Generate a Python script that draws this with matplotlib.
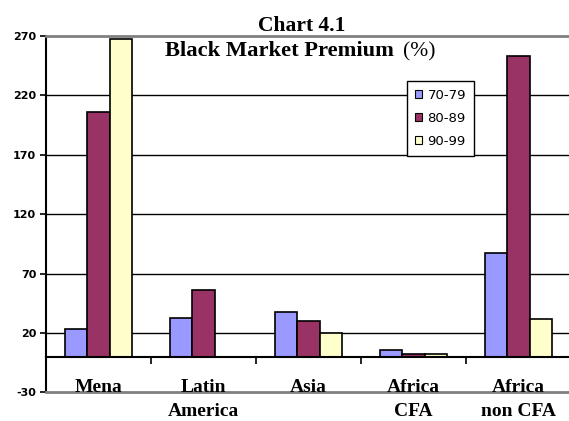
import numpy as np
import matplotlib
matplotlib.use("Agg")
import matplotlib.pyplot as plt
from matplotlib.patches import Patch
from matplotlib.transforms import offset_copy

# Black market premium by region and decade (%)
categories = ["Mena", "Latin\nAmerica", "Asia", "Africa\nCFA", "Africa\nnon CFA"]
series_names = ["70-79", "80-89", "90-99"]
premium_70s = [23, 32.5, 37.5, 6, 87.5]
premium_80s = [206, 56, 30, 2.5, 253]
premium_90s = [267.5, np.nan, 20, 2.5, 31.5]
y_ticks = [-30, 20, 70, 120, 170, 220, 270]

colors = ["#9999FF", "#993366", "#FFFFCC"]
serif = ["Liberation Serif", "DejaVu Serif"]

fig = plt.figure(figsize=(5.69, 4.21), dpi=100)
ax = fig.add_axes([46 / 569, 1 - 392.3 / 421, 525 / 569, (392.3 - 36) / 421])

x = np.arange(len(categories))
width = 0.214
for i, (vals, c) in enumerate(zip([premium_70s, premium_80s, premium_90s], colors)):
    ax.bar(x + (i - 1) * width, vals, width, color=c, edgecolor="black",
           linewidth=1.2, zorder=3)

ax.set_xlim(-0.5, len(categories) - 0.5)
ax.set_ylim(y_ticks[0], y_ticks[-1])
ax.set_yticks(y_ticks)
ax.set_yticklabels([str(t) for t in y_ticks], fontsize=8, fontweight="bold")
ax.tick_params(axis="y", direction="out", length=4, width=1.2, pad=3)
ax.set_xticks([])

# horizontal gridlines
for t in y_ticks[1:-1]:
    ax.axhline(t, color="black", linewidth=1, zorder=1)

for side in ["top", "bottom"]:
    ax.spines[side].set_color("#808080")
    ax.spines[side].set_linewidth(2)
ax.spines["left"].set_color("black")
ax.spines["left"].set_linewidth(1.5)
ax.spines["right"].set_visible(False)

# category axis crossing at zero
zero_frac = (0 - y_ticks[0]) / (y_ticks[-1] - y_ticks[0])
sec = ax.secondary_xaxis(zero_frac)
sec.set_xticks(np.arange(len(categories)) + 0.5)
sec.set_xticklabels([])
sec.tick_params(direction="out", length=5, width=1.2, color="black")
sec.spines["bottom"].set_linewidth(1.5)
sec.spines["bottom"].set_color("black")
sec.set_zorder(4)

# category labels: first line sits on the bottom edge, further lines below it
for xi, name in zip(x, categories):
    for k, line in enumerate(name.split("\n")):
        tr = offset_copy(ax.transData, fig=fig, x=0, y=-23.5 * k, units="dots")
        ax.text(xi, y_ticks[0], line, ha="center", va="baseline",
                fontsize=14, fontweight="bold", family=serif,
                transform=tr, clip_on=False)

# titles
fig.text(302 / 569, 1 - 30.8 / 421, "Chart 4.1", ha="center", va="baseline",
         fontsize=15.5, fontweight="bold", family=serif)
fig.text(394 / 569, 1 - 56.2 / 421, "Black Market Premium", ha="right",
         va="baseline", fontsize=16.2, fontweight="bold", family=serif)
fig.text(403 / 569, 1 - 56.2 / 421, "(%)", ha="left", va="baseline",
         fontsize=15.5, family=serif)

handles = [Patch(facecolor=c, edgecolor="black", linewidth=0.8) for c in colors]
leg = fig.legend(handles, series_names, loc="upper left",
                 bbox_to_anchor=(407 / 569, 1 - 81 / 421), borderaxespad=0,
                 fontsize=9.5, handlelength=0.55, handleheight=0.55,
                 handletextpad=0.4, borderpad=0.6, labelspacing=0.75,
                 fancybox=False, framealpha=1, edgecolor="black")
leg.get_frame().set_linewidth(1)

fig.savefig("out.png", dpi=100)
